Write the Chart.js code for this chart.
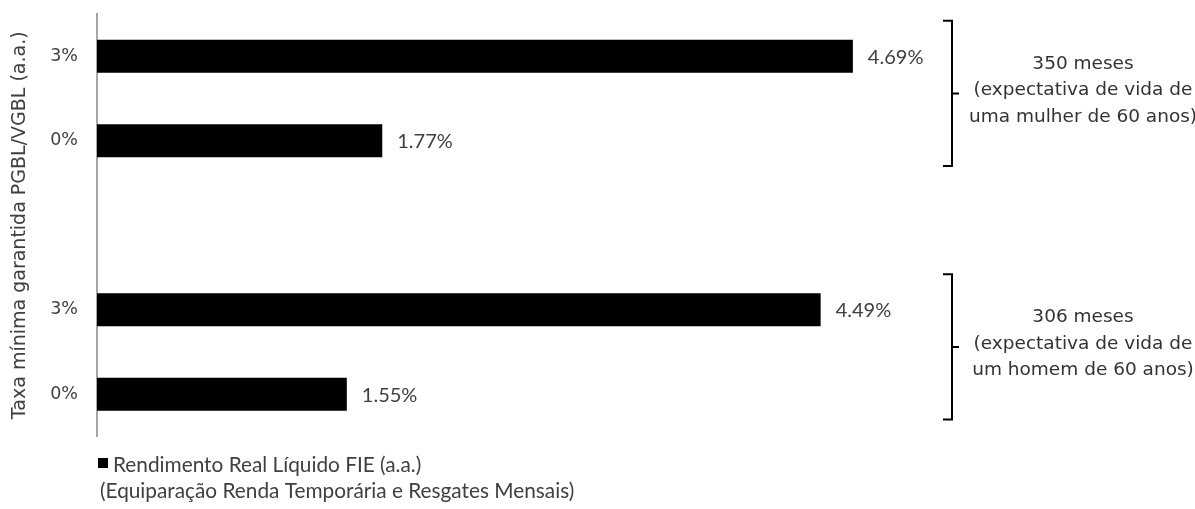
<!DOCTYPE html>
<html>
<head>
<meta charset="utf-8">
<script src="https://cdn.jsdelivr.net/npm/chart.js@4.4.1/dist/chart.umd.min.js"></script>
<style>
  html, body { margin: 0; padding: 0; background: #ffffff; }
  #wrap { position: relative; width: 1195px; height: 509px; }
</style>
</head>
<body>
<div id="wrap"><canvas id="chart" width="1195" height="509"></canvas></div>
<script>
// Guaranteed minimum rate (PGBL/VGBL) per bar; the empty slot separates the two groups
const categories = ['3%', '0%', '', '3%', '0%'];
// Net real return of the FIE equivalent (% a.a.)
const returns = [4.69, 1.77, null, 4.49, 1.55];

const seriesLabel = ['Rendimento Real Líquido FIE (a.a.)', '(Equiparação Renda Temporária e Resgates Mensais)'];
const axisTitle = 'Taxa mínima garantida PGBL/VGBL (a.a.)';

// Horizon groups shown with a bracket on the right
const groupLines = [
  ['350 meses', '(expectativa de vida de', 'uma mulher de 60 anos)'],
  ['306 meses', '(expectativa de vida de', 'um homem de 60 anos)']
];
const groupFirst = [0, 3];
const groupLast = [1, 4];

const TEXT = '#404040';
const GOTHIC = '"DejaVu Sans", sans-serif';
const SANS = 'Lato, sans-serif';

const overlay = {
  id: 'overlay',
  afterDatasetsDraw(chart) {
    const ctx = chart.ctx;
    const y = chart.scales.y;
    const meta = chart.getDatasetMeta(0);

    // value labels to the right of each bar
    ctx.save();
    ctx.font = '20px ' + SANS;
    ctx.fillStyle = TEXT;
    ctx.textAlign = 'left';
    ctx.textBaseline = 'middle';
    meta.data.forEach((bar, i) => {
      const v = returns[i];
      if (v === null || v === undefined) return;
      ctx.fillText(v.toFixed(2) + '%', bar.x + 15, bar.y + 1);
    });
    ctx.restore();

    // brackets and their captions
    const step = y.getPixelForValue(1) - y.getPixelForValue(0);
    groupLines.forEach((lines, g) => {
      const top = y.getPixelForValue(groupFirst[g]) - 0.42 * step;
      const bottom = y.getPixelForValue(groupLast[g]) + 0.3 * step;
      const mid = (top + bottom) / 2;
      const bx = 952;
      ctx.save();
      ctx.strokeStyle = '#000000';
      ctx.lineWidth = 2;
      ctx.beginPath();
      ctx.moveTo(bx - 9, top);
      ctx.lineTo(bx, top);
      ctx.lineTo(bx, bottom);
      ctx.lineTo(bx - 9, bottom);
      ctx.moveTo(bx, mid);
      ctx.lineTo(bx + 7, mid);
      ctx.stroke();

      ctx.font = '18.5px ' + GOTHIC;
      ctx.fillStyle = '#333333';
      ctx.textAlign = 'center';
      ctx.textBaseline = 'middle';
      const lh = 26.5;
      const cy = mid - 3;
      lines.forEach((t, k) => {
        ctx.fillText(t, 1083, cy + (k - (lines.length - 1) / 2) * lh);
      });
      ctx.restore();
    });

    // legend
    ctx.save();
    const lx = chart.chartArea.left + 1;
    ctx.fillStyle = '#000000';
    ctx.fillRect(lx, 458, 10, 10);
    ctx.font = '20.8px ' + SANS;
    ctx.fillStyle = TEXT;
    ctx.textAlign = 'left';
    ctx.textBaseline = 'middle';
    ctx.fillText(seriesLabel[0], lx + 15, 465);
    ctx.fillText(seriesLabel[1], lx + 2, 491);
    ctx.restore();
  }
};

new Chart(document.getElementById('chart'), {
  type: 'bar',
  data: {
    labels: categories,
    datasets: [{
      label: seriesLabel.join(' '),
      data: returns,
      backgroundColor: '#000000',
      borderWidth: 0,
      categoryPercentage: 1,
      barPercentage: 0.39
    }]
  },
  options: {
    indexAxis: 'y',
    responsive: false,
    animation: false,
    layout: { padding: { top: 14, bottom: 72.5, right: 131, left: 0 } },
    plugins: {
      legend: { display: false },
      tooltip: { enabled: false }
    },
    scales: {
      x: {
        display: false,
        min: 0,
        max: 6
      },
      y: {
        afterFit(scale) {
          scale.width = 97;
          scale.paddingTop = 0;
          scale.paddingBottom = 0;
        },
        grid: { display: false, drawTicks: false },
        border: { display: true, color: '#a6a6a6', width: 2 },
        ticks: {
          color: TEXT,
          font: { family: GOTHIC, size: 17.5 },
          padding: 19
        },
        title: {
          display: true,
          text: axisTitle,
          color: TEXT,
          font: { family: GOTHIC, size: 19 },
          padding: { top: 9, bottom: 0 }
        }
      }
    }
  },
  plugins: [overlay]
});
</script>
</body>
</html>
